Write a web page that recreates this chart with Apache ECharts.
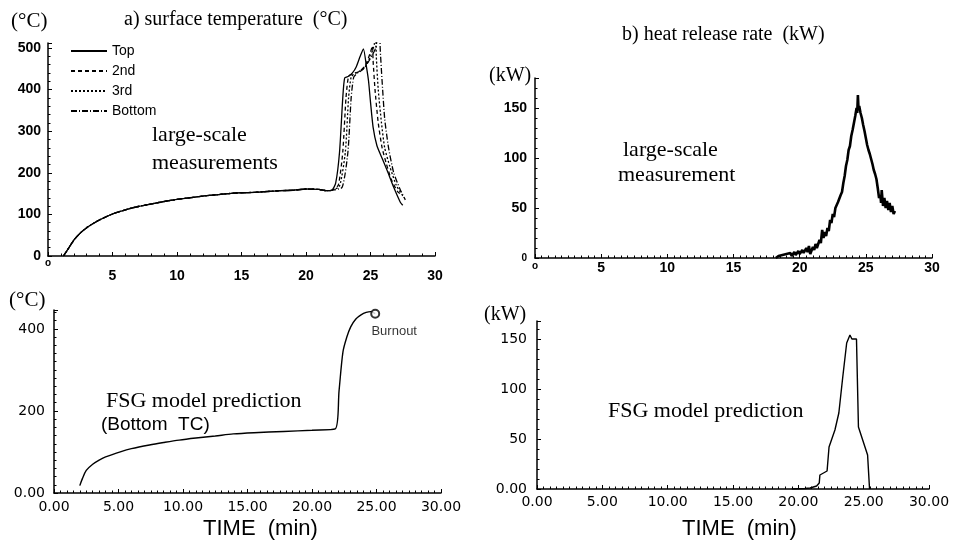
<!DOCTYPE html>
<html><head><meta charset="utf-8">
<script src="https://cdn.jsdelivr.net/npm/echarts@6/dist/echarts.min.js"></script>
<style>html,body{margin:0;padding:0;background:#fff}#c{width:963px;height:547px}</style>
</head><body><div id="c"></div>
<script>
// ---------- data ----------
const legendNames = ['Top', '2nd', '3rd', 'Bottom'];
// shared pre-ignition part of the measured surface temperatures [min, °C]
const tempBase = [[1.2,0],[1.5,14],[2,38],[2.5,55],[3,68],[3.5,78],[4,87],[5,101],[6,111],[7,119],[8,125],[9,131],[10,136],[11,140],[12,144],[13,147],[14,150],[15,152],[16,153],[17,155],[18,157],[19,158],[20,161],[21,160],[21.6,157]];
const tempTop = [[22.0,158],[22.3,175],[22.6,250],[22.85,380],[23.0,428],[23.3,432],[23.6,440],[23.9,455],[24.2,480],[24.45,498],[24.7,452],[24.85,420],[25.0,370],[25.2,310],[25.5,265],[25.9,235],[26.3,205],[26.8,165],[27.3,130],[27.5,122]];
const temp2nd = [[22.0,158],[22.5,170],[22.85,250],[23.1,380],[23.3,432],[23.6,438],[23.9,440],[24.2,445],[24.6,458],[25.0,490],[25.15,505],[25.2,470],[25.35,400],[25.6,320],[25.9,260],[26.2,225],[26.6,185],[27.1,155],[27.5,145]];
const temp3rd = [[22.0,158],[22.6,168],[23.05,250],[23.3,380],[23.5,430],[23.8,440],[24.2,445],[24.6,455],[25.0,480],[25.3,510],[25.4,540],[25.45,480],[25.6,400],[25.85,320],[26.1,260],[26.5,215],[27.0,170],[27.6,140]];
const tempBottom = [[22.0,158],[22.8,165],[23.25,250],[23.5,380],[23.7,430],[24.0,440],[24.4,448],[24.9,470],[25.4,500],[25.7,560],[25.75,500],[25.9,420],[26.1,330],[26.4,260],[26.8,200],[27.3,160],[27.7,135]];
// measured heat release rate [min, kW]
const hrrMeasured = [[18.2,0],[18.4,2],[18.5,0],[18.7,3],[18.8,1],[19.0,4],[19.1,2],[19.3,5],[19.4,2],[19.6,6],[19.7,3],[19.9,7],[20.0,4],[20.2,8],[20.3,5],[20.5,10],[20.6,6],[20.7,12],[20.8,4],[21.0,11],[21.1,8],[21.2,14],[21.3,10],[21.5,18],[21.6,15],[21.7,28],[21.8,20],[21.9,26],[22.0,22],[22.1,30],[22.2,27],[22.3,38],[22.4,35],[22.5,44],[22.6,41],[22.7,50],[22.8,48],[22.9,56],[23.0,55],[23.1,63],[23.2,66],[23.3,75],[23.4,82],[23.5,92],[23.6,98],[23.7,108],[23.8,112],[23.9,122],[24.0,128],[24.1,135],[24.2,142],[24.3,150],[24.35,145],[24.4,163],[24.45,148],[24.5,152],[24.6,145],[24.7,140],[24.8,133],[24.9,127],[25.0,120],[25.1,113],[25.2,108],[25.3,104],[25.4,99],[25.5,94],[25.6,88],[25.7,84],[25.8,79],[25.9,70],[26.0,60],[26.1,63],[26.15,55],[26.2,68],[26.3,52],[26.4,60],[26.5,50],[26.6,57],[26.7,48],[26.8,55],[26.9,46],[27.0,52],[27.1,44],[27.2,47]];
// FSG model predicted bottom TC temperature [min, °C]
const tempPredicted = [[2.0,18],[2.2,35],[2.5,55],[3.0,70],[3.5,80],[4.0,88],[5.2,101],[6.0,108],[7.4,117],[8.5,123],[9.7,129],[11,134],[12.5,139],[13.9,144],[15.5,147],[17.8,150],[20,153],[21.8,156],[22.1,250],[22.4,344],[22.7,380],[23.0,405],[23.4,424],[23.8,434],[24.2,440],[24.55,442],[24.9,437]];
const burnoutPoint = [[24.9,437]];
// FSG model predicted heat release rate [min, kW]
const hrrPredicted = [[19.5,0],[20.5,0.5],[20.9,1],[21.4,3],[21.6,6],[21.65,14],[22.2,18],[22.35,42],[22.8,59],[23.1,76],[23.4,112],[23.7,146],[23.95,154],[24.1,150],[24.25,152],[24.45,150],[24.6,62],[25.1,42],[25.3,34],[25.45,0]];

// ---------- styling helpers ----------
const SANS = 'Liberation Sans';
const SERIF = 'Liberation Serif';
const axisLine = {show: true, onZero: false, lineStyle: {color: '#000', width: 1.5}};
const tick = {show: true, inside: true, length: 4, lineStyle: {color: '#000', width: 1}};
function minor(n) { return {show: true, splitNumber: n, length: 2.5, lineStyle: {color: '#000', width: 1}}; }

function xAxis(grid, opts) {
  return Object.assign({
    type: 'value', gridIndex: grid, min: 0, max: 30, interval: 5,
    axisLine, axisTick: tick, splitLine: {show: false}
  }, opts);
}
function yAxis(grid, opts) {
  return Object.assign({
    type: 'value', gridIndex: grid, min: 0,
    axisLine, axisTick: tick, splitLine: {show: false}
  }, opts);
}

const lineTypes = ['solid', [4, 3], [2, 2], [6, 2, 1, 2]];
const tempSeriesData = [tempTop, temp2nd, temp3rd, tempBottom];

const series = legendNames.map((name, i) => ({
  name, type: 'line', xAxisIndex: 0, yAxisIndex: 0,
  data: tempBase.concat(tempSeriesData[i]),
  symbol: 'none', showSymbol: false, smooth: 0.2, clip: true,
  lineStyle: {color: '#000', width: 1.3, type: lineTypes[i]},
  itemStyle: {color: '#000'}
}));
series.push({
  type: 'line', xAxisIndex: 1, yAxisIndex: 1, data: hrrMeasured,
  symbol: 'none', lineStyle: {color: '#000', width: 2.6}
});
series.push({
  type: 'line', xAxisIndex: 2, yAxisIndex: 2, data: tempPredicted,
  symbol: 'none', smooth: 0.3, lineStyle: {color: '#000', width: 1.4}
});
series.push({
  type: 'scatter', xAxisIndex: 2, yAxisIndex: 2, data: burnoutPoint,
  symbol: 'emptyCircle', symbolSize: 8, z: 5,
  itemStyle: {color: '#000', borderColor: '#000', borderWidth: 1.6},
  label: {show: true, formatter: 'Burnout', position: 'bottom', distance: 6, offset: [19, 0],
          fontFamily: SANS, fontSize: 13, color: '#000'}
});
series.push({
  type: 'line', xAxisIndex: 3, yAxisIndex: 3, data: hrrPredicted,
  symbol: 'none', lineStyle: {color: '#000', width: 1.4}
});

function txt(text, left, top, size, family, extra) {
  return {text, left, top, textStyle: Object.assign({fontFamily: family, fontSize: size, fontWeight: 'normal', color: '#000'}, extra || {})};
}

const option = {
  backgroundColor: '#fff',
  animation: false,
  title: [
    txt('(°C)', 6, 6, 21, SERIF),
    txt('a) surface temperature  (°C)', 119, 5, 20, SERIF),
    txt('b) heat release rate  (kW)', 617, 20, 20, SERIF),
    txt('(kW)', 484, 61, 20, SERIF),
    txt('large-scale', 147, 119, 22, SERIF),
    txt('measurements', 147, 147, 22, SERIF),
    txt('large-scale', 618, 134, 22, SERIF),
    txt('measurement', 613, 159, 22, SERIF),
    txt('(°C)', 4, 285, 21, SERIF),
    txt('FSG model prediction', 101, 385, 22, SERIF),
    txt('(Bottom  TC)', 96, 410, 19, SANS),
    txt('(kW)', 479, 300, 20, SERIF),
    txt('FSG model prediction', 603, 395, 22, SERIF),
    txt('TIME  (min)', 198, 513, 22, SANS, {fontWeight: 300}),
    txt('TIME  (min)', 677, 513, 22, SANS, {fontWeight: 300})
  ],
  legend: {
    data: legendNames, orient: 'vertical', left: 65, top: 39,
    itemWidth: 36, itemHeight: 14, itemGap: 6,
    itemStyle: {opacity: 0},
    textStyle: {fontFamily: SANS, fontSize: 14, color: '#000'},
    selectedMode: false
  },
  grid: [
    {left: 48, top: 43, width: 387, height: 213, outerBoundsMode: 'none'},
    {left: 535, top: 78, width: 397, height: 180, outerBoundsMode: 'none'},
    {left: 54, top: 310, width: 387, height: 183, outerBoundsMode: 'none'},
    {left: 537, top: 321, width: 392, height: 168, outerBoundsMode: 'none'}
  ],
  xAxis: [
    xAxis(0, {minorTick: minor(5), axisLabel: {margin: 2, formatter: v => v === 0 ? '{o|o}' : '{n|' + v + '}',
      rich: {o: {fontFamily: SANS, fontSize: 10, fontWeight: 'bold', color: '#000'},
             n: {fontFamily: SANS, fontSize: 14, fontWeight: 'bold', color: '#000', padding: [11, 0, 0, 0]}}}}),
    xAxis(1, {minorTick: minor(10), axisLabel: {margin: 3, formatter: v => v === 0 ? '{o|o}' : '{n|' + v + '}',
      rich: {o: {fontFamily: SANS, fontSize: 10, fontWeight: 'bold', color: '#000'},
             n: {fontFamily: SANS, fontSize: 14, fontWeight: 'bold', color: '#000'}}}}),
    xAxis(2, {minorTick: minor(10), axisLabel: {margin: 7, fontFamily: 'DejaVu Sans', fontSize: 14, color: '#000', formatter: v => v.toFixed(2)}}),
    xAxis(3, {minorTick: minor(10), axisLabel: {margin: 6, fontFamily: 'DejaVu Sans', fontSize: 14, color: '#000', formatter: v => v.toFixed(2)}})
  ],
  yAxis: [
    yAxis(0, {max: 512, interval: 100, minorTick: minor(5),
      axisLabel: {margin: 7, fontFamily: SANS, fontSize: 14, fontWeight: 'bold', color: '#000', formatter: v => v % 100 ? '' : String(v)}}),
    yAxis(1, {max: 180, interval: 50, minorTick: minor(5),
      axisLabel: {margin: 8, formatter: v => v === 0 ? '{s|0}' : (v % 50 ? '' : '{n|' + v + '}'),
        rich: {s: {fontFamily: SANS, fontSize: 10, fontWeight: 'bold', color: '#000'},
               n: {fontFamily: SANS, fontSize: 14, fontWeight: 'bold', color: '#000'}}}}),
    yAxis(2, {max: 446, interval: 200, minorTick: minor(10),
      axisLabel: {margin: 9, fontFamily: 'DejaVu Sans', fontSize: 14, color: '#000', formatter: v => v === 0 ? '0.00' : (v % 200 ? '' : String(v))}}),
    yAxis(3, {max: 168, interval: 50, minorTick: minor(5),
      axisLabel: {margin: 10, fontFamily: 'DejaVu Sans', fontSize: 14, color: '#000', formatter: v => v === 0 ? '0.00' : (v % 50 ? '' : String(v))}})
  ],
  series
};

const chart = echarts.init(document.getElementById('c'), null, {renderer: 'canvas'});
chart.setOption(option);
</script>
</body></html>
